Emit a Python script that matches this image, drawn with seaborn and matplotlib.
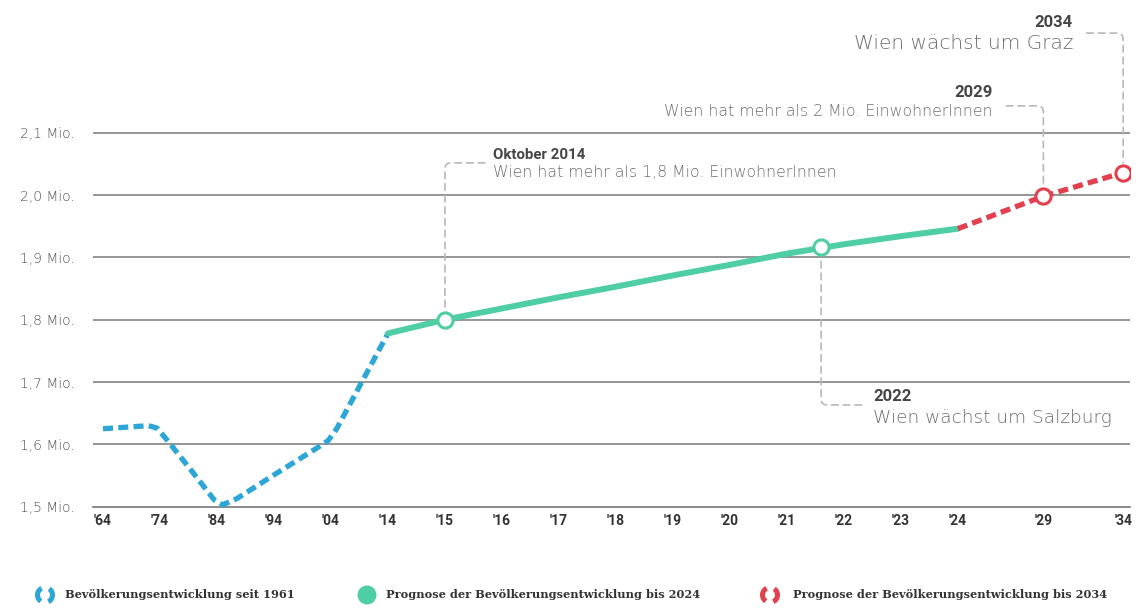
import numpy as np
import matplotlib
matplotlib.use("Agg")
import matplotlib.pyplot as plt
from matplotlib.patches import Arc, FancyArrowPatch, Ellipse
import seaborn as sns

# ---------------- data ----------------
blue_years = [1964, 1972, 1973.5, 1975.5, 1979.5, 1983.5, 1985, 1987.5, 1994, 2001, 2003.5, 2005, 2014]
blue_values = [1.625, 1.630, 1.626, 1.604, 1.558, 1.511, 1.503, 1.513, 1.551, 1.591, 1.606, 1.625, 1.778]

green_years = [2014, 2015, 2016, 2017, 2018, 2019, 2020, 2021, 2022, 2023, 2024]
green_values = [1.778, 1.800, 1.818, 1.836, 1.853, 1.871, 1.888, 1.906, 1.921, 1.934, 1.946]

red_years = [2024, 2029, 2034]
red_values = [1.946, 1.998, 2.036]

green_marker_years = [2015, 2021.6]
green_marker_values = [1.800, 1.917]
red_marker_years = [2029, 2034]
red_marker_values = [1.998, 2.036]

tick_years = [1964, 1974, 1984, 1994, 2004, 2014, 2015, 2016, 2017, 2018,
              2019, 2020, 2021, 2022, 2023, 2024, 2029, 2034]
tick_labels = ["'64", "'74", "'84", "'94", "'04", "'14", "'15", "'16", "'17", "'18",
               "'19", "'20", "'21", "'22", "'23", "'24", "'29", "'34"]

y_ticks = [1.5, 1.6, 1.7, 1.8, 1.9, 2.0, 2.1]
y_tick_labels = ["1,5 Mio.", "1,6 Mio.", "1,7 Mio.", "1,8 Mio.", "1,9 Mio.", "2,0 Mio.", "2,1 Mio."]

legend_labels = ["Bevölkerungsentwicklung seit 1961",
                 "Prognose der Bevölkerungsentwicklung bis 2024",
                 "Prognose der Bevölkerungsentwicklung bis 2034"]

ann_titles = ["Oktober 2014", "2029", "2034", "2022"]
ann_texts = ["Wien hat mehr als 1,8 Mio. EinwohnerInnen",
             "Wien hat mehr als 2 Mio. EinwohnerInnen",
             "Wien wächst um Graz",
             "Wien wächst um Salzburg"]

# ---------------- style ----------------
BLUE = "#2ba6d6"
GREEN = "#4fcda5"
RED = "#e2404f"
GRID = "#8c8c8c"
LEAD = "#b8b8b8"

sns.set_theme(style="white")
plt.rcParams["font.family"] = ["DejaVu Sans"]

# piecewise time axis: decades, then years, then 5-year steps
knot_years = [1964, 2014, 2024, 2029, 2034]
knot_pos = [0, 5, 15, 16.5, 17.9]


def pos(years):
    return np.interp(np.asarray(years, dtype=float), knot_years, knot_pos)


fig = plt.figure(figsize=(11.36, 6.08), dpi=100)
ax = fig.add_axes([0.0819, 0.1154, 0.9128, 0.7176])
ax.set_xlim(-0.175, 18.02)
ax.set_ylim(1.45, 2.15)

# lines
sns.lineplot(x=pos(blue_years), y=blue_values, ax=ax, color=BLUE, linewidth=3.8, zorder=3)
ax.lines[-1].set_linestyle((0, (1.9, 1.0)))
sns.lineplot(x=pos(green_years), y=green_values, ax=ax, color=GREEN, linewidth=4.3, zorder=3)
ax.lines[-1].set_solid_capstyle("round")
sns.lineplot(x=pos(red_years), y=red_values, ax=ax, color=RED, linewidth=3.8, zorder=3)
ax.lines[-1].set_linestyle((0, (1.9, 1.0)))

# markers
sns.scatterplot(x=pos(green_marker_years), y=green_marker_values, ax=ax, s=120,
                color="white", edgecolor=GREEN, linewidth=2.2, zorder=5)
sns.scatterplot(x=pos(red_marker_years), y=red_marker_values, ax=ax, s=120,
                color="white", edgecolor=RED, linewidth=2.2, zorder=5)

# axes styling
for s in ["top", "right", "left"]:
    ax.spines[s].set_visible(False)
ax.spines["bottom"].set_position(("data", 1.5))
ax.spines["bottom"].set_color(GRID)
ax.spines["bottom"].set_linewidth(1.3)
ax.set_yticks(y_ticks)
ax.set_yticklabels(y_tick_labels)
ax.grid(axis="y", color=GRID, linewidth=1.3)
ax.grid(axis="x", visible=False)
ax.set_xticks(pos(tick_years))
ax.set_xticklabels(tick_labels)
ax.tick_params(axis="y", length=0, pad=13, labelsize=10, labelcolor="#505050")
ax.tick_params(axis="x", direction="in", length=4, width=1, color=GRID, pad=5,
               labelsize=10, labelcolor="#333333")
for lab in ax.get_yticklabels():
    lab.set_fontweight("light")
for lab in ax.get_xticklabels():
    lab.set_fontfamily(["Roboto", "DejaVu Sans"])
    lab.set_fontweight("bold")
ax.set_xlabel("")
ax.set_ylabel("")
leg = ax.get_legend()
if leg is not None:
    leg.remove()

# annotations: (title x, title y, text y, ha, leader start, marker)
ann_layout = [
    (6.84, 2.0645, 2.0356, "left", (6.70, 2.0516), (pos(2015), 1.800)),
    (15.61, 2.164, 2.1334, "right", (15.85, 2.143), (pos(2029), 1.998)),
    (17.02, 2.277, 2.2438, "right", (17.26, 2.2598), (pos(2034), 2.036)),
    (13.51, 1.6766, 1.642, "left", (13.31, 1.6632), (pos(2021.6), 1.917)),
]
title_sizes = [10.8, 12, 12, 12]
text_sizes = [11.3, 11.3, 14.5, 13.3]
for i, (tx, ty, ly, ha, pa, pb) in enumerate(ann_layout):
    ax.text(tx, ty, ann_titles[i], ha=ha, va="center", fontsize=title_sizes[i],
            fontweight="bold", color="#454545", family=["Roboto", "DejaVu Sans"],
            clip_on=False)
    ax.text(tx, ly, ann_texts[i], ha=ha, va="center", fontsize=text_sizes[i],
            fontweight="light", color="#6e6e6e", clip_on=False)
    arr = FancyArrowPatch(pa, pb, arrowstyle="-",
                          connectionstyle="angle,angleA=0,angleB=90,rad=6",
                          linestyle=(0, (4, 3)), color=LEAD, linewidth=1.2,
                          shrinkA=0, shrinkB=7, zorder=2, clip_on=False)
    ax.add_patch(arr)

# legend (bottom)
W, H = 1136.0, 608.0
ly_px = 595
icon_x = [45, 367, 770]
text_x = [65, 386, 793]
d = 19.0
for i, (ix, txp) in enumerate(zip(icon_x, text_x)):
    cx, cy = ix / W, (H - ly_px) / H
    if i == 1:
        fig.add_artist(Ellipse((cx, cy), d / W, d / H, transform=fig.transFigure,
                               facecolor=GREEN, edgecolor="none"))
    else:
        col = BLUE if i == 0 else RED
        for t1, t2 in [(105, 250), (285, 70)]:
            fig.add_artist(Arc((cx, cy), (d - 4) / W, (d - 4) / H, theta1=t1, theta2=t2,
                               transform=fig.transFigure, color=col, linewidth=3.6))
    fig.text(txp / W, cy, legend_labels[i], ha="left", va="center", fontsize=8.2,
             fontweight="bold", color="#333333", family=["DejaVu Serif"])

fig.savefig("out.png", dpi=100, facecolor="white")
